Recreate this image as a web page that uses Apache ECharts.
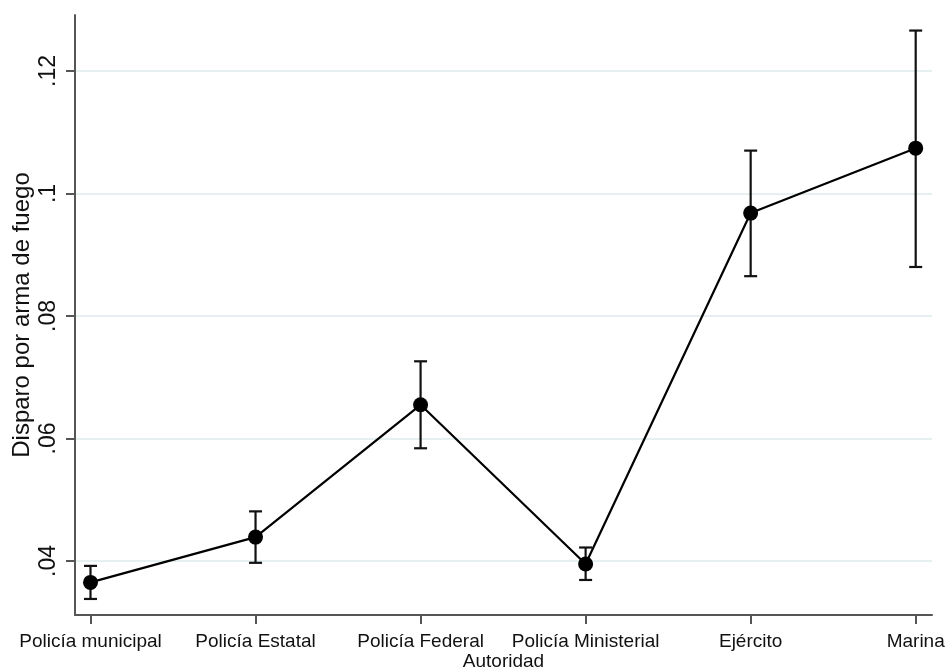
<!DOCTYPE html>
<html>
<head>
<meta charset="utf-8">
<script src="https://cdn.jsdelivr.net/npm/echarts@6/dist/echarts.min.js"></script>
<style>html,body{margin:0;padding:0;background:#fff}#c{width:947px;height:669px}</style>
</head>
<body>
<div id="c"></div>
<script>
const categories = ['Policía municipal','Policía Estatal','Policía Federal','Policía Ministerial','Ejército','Marina'];
const means = [0.0365, 0.0439, 0.0655, 0.0395, 0.0968, 0.1074];
const lower = [0.0338, 0.0397, 0.0584, 0.0369, 0.0865, 0.0880];
const upper = [0.0392, 0.0481, 0.0726, 0.0422, 0.1070, 0.1266];
const yTicks = [0.04, 0.06, 0.08, 0.10, 0.12];
const yTickLabels = ['.04', '.06', '.08', '.1', '.12'];

const idx = categories.map((_, i) => i);
const font = 'Liberation Sans, Arial, sans-serif';
const chart = echarts.init(document.getElementById('c'), null, {renderer: 'canvas'});
chart.setOption({
  animation: false,
  backgroundColor: '#fff',
  grid: {left: 75, right: 15, top: 15, bottom: 54, containLabel: false, outerBoundsMode: 'none'},
  xAxis: {
    type: 'value', min: -0.0939, max: 5.0988,
    name: 'Autoridad', nameLocation: 'middle', nameGap: 37, nameMoveOverlap: false,
    nameTextStyle: {fontFamily: font, fontSize: 19, color: '#111'},
    axisLine: {show: true, onZero: false, lineStyle: {color: '#555', width: 2}},
    axisTick: {show: true, length: 9, customValues: idx, lineStyle: {color: '#555', width: 2}},
    axisLabel: {customValues: idx, margin: 17, fontFamily: font, fontSize: 19, color: '#111',
      formatter: v => categories[Math.round(v)] || ''},
    splitLine: {show: false}
  },
  yAxis: {
    type: 'value', min: 0.03118, max: 0.12914,
    name: 'Disparo por arma de fuego', nameLocation: 'middle', nameGap: 41, nameRotate: 90, nameMoveOverlap: false,
    nameTextStyle: {fontFamily: font, fontSize: 24, color: '#111'},
    axisLine: {show: true, onZero: false, lineStyle: {color: '#555', width: 2}},
    axisTick: {show: true, length: 9, customValues: yTicks, lineStyle: {color: '#555', width: 2}},
    axisLabel: {customValues: yTicks, rotate: 90, margin: 15, fontFamily: font, fontSize: 23, color: '#111',
      formatter: v => { const k = yTicks.findIndex(t => Math.abs(t - v) < 1e-9); return k >= 0 ? yTickLabels[k] : ''; }},
    splitLine: {show: true, lineStyle: {color: '#e6f0f1', width: 2}}
  },
  series: [
    {
      type: 'custom',
      z: 2,
      data: idx.map(i => [i, lower[i], upper[i]]),
      renderItem: function (params, api) {
        const x = api.value(0);
        const lo = api.coord([x, api.value(1)]);
        const hi = api.coord([x, api.value(2)]);
        const w = 6.5;
        const st = {stroke: '#111', lineWidth: 2.2};
        return {type: 'group', children: [
          {type: 'line', shape: {x1: lo[0], y1: lo[1], x2: hi[0], y2: hi[1]}, style: st},
          {type: 'line', shape: {x1: lo[0] - w, y1: lo[1], x2: lo[0] + w, y2: lo[1]}, style: st},
          {type: 'line', shape: {x1: hi[0] - w, y1: hi[1], x2: hi[0] + w, y2: hi[1]}, style: st}
        ]};
      }
    },
    {
      type: 'line',
      z: 3,
      data: idx.map(i => [i, means[i]]),
      symbol: 'circle', symbolSize: 15,
      itemStyle: {color: '#000'},
      lineStyle: {color: '#000', width: 2.2}
    }
  ]
});
</script>
</body>
</html>
